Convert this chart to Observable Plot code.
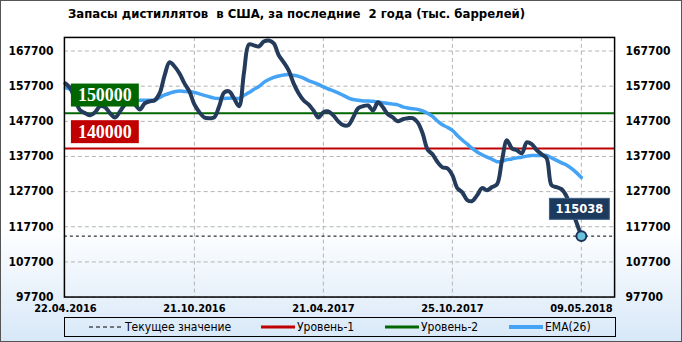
<!DOCTYPE html>
<html><head><meta charset="utf-8">
<script src="https://cdn.jsdelivr.net/npm/d3@7"></script>
<script src="https://cdn.jsdelivr.net/npm/@observablehq/plot@0.6"></script>
<style>
body{margin:0;}
#wrap{position:relative;width:682px;height:342px;box-sizing:border-box;border:1px solid #555;background:linear-gradient(to bottom,#ffffff 0%,#ffffff 66%,#d8e8f8 100%);overflow:hidden;font-family:"DejaVu Sans Condensed","DejaVu Sans",sans-serif;}
#title{position:absolute;left:67px;top:5px;font-weight:bold;font-size:13px;color:#000;white-space:pre;}
#chart{position:absolute;left:-1px;top:-1px;}
#legend{position:absolute;left:63px;top:316px;width:552px;height:20px;border:1px solid #000;box-sizing:border-box;}
.li{position:absolute;top:0;height:18px;display:flex;align-items:center;font-size:12px;white-space:nowrap;color:#000;}
.li svg{margin-right:2px;}
#chart svg [aria-label="y-axis tick label"] text, #chart svg [aria-label="x-axis tick label"] text{font-weight:bold;}
</style></head>
<body>
<div id="wrap">
  <div id="chart"></div>
  <div id="title"></div>
  <div id="legend"></div>
</div>
<script>
const titleText = "Запасы дистиллятов  в США, за последние  2 года (тыс. баррелей)";
const dates = ["22.04.2016","21.10.2016","21.04.2017","25.10.2017","09.05.2018"];
const dateIdx = [0,26,52,78,104];
const yTicks = [97700,107700,117700,127700,137700,147700,157700,167700];
const level1 = 140000;
const level2 = 150000;
const current = 115038;
const stocks = [
158500,157100,153700,150800,150000,149400,150300,152000,151700,150000,
148800,150500,152500,153400,152500,151100,152800,153400,153700,155700,
160800,164500,163300,161300,158500,156200,152500,150300,148800,148600,
148800,152000,155900,156200,154200,152000,161600,169600,169300,169000,
170400,170700,169900,166500,164500,162200,158500,155700,153700,152500,
150800,148800,150300,150500,149400,147700,146600,146600,148800,151400,
152000,152200,150800,153100,151700,149700,148800,147700,148300,148600,
148600,147400,144300,139700,138300,136100,134600,134300,132400,128700,
127500,125300,125000,126700,128700,128100,129000,129800,136600,142300,
140000,139500,138600,141700,141200,139500,138300,137200,129500,129000,
128400,126400,122700,119000,115038];
const ema = [
157200,156800,156500,156200,155700,155200,154800,154500,154200,153900,
153800,153700,153500,153500,153500,153700,153700,153700,153700,154500,
155200,155700,156100,156300,156200,156100,155900,155500,155100,154700,
154300,154200,154200,154300,154300,154200,155100,155900,156800,157600,
158800,159600,160200,160600,160900,161000,160800,160500,160000,159300,
158800,158200,157500,156900,156400,155800,155100,154400,153900,153700,
153500,153500,153400,153200,153000,152800,152600,152400,151800,151500,
151300,151100,150700,150000,149100,147800,146700,146000,145100,143700,
142400,141200,140000,139000,138200,137500,136900,136200,136300,136800,
137000,137300,137500,137800,138000,138000,138000,138000,137300,136600,
135900,135300,134300,133100,131700];
const legendItems = [
  {label:"Текущее значение", color:"#000", width:1, dash:"4,3", left:24},
  {label:"Уровень-1", color:"#c00000", width:3, dash:null, left:196},
  {label:"Уровень-2", color:"#006600", width:3, dash:null, left:320},
  {label:"EMA(26)", color:"#44a3f5", width:4, dash:null, left:444}
];

const C_MAIN = "#243b5c", C_EMA = "#44a3f5", C_L1 = "#c00000", C_L2 = "#006600";
const data = stocks.map((v,i)=>({i, v, e: ema[i]}));
const last = data[data.length-1];
const levels = [{v:level2, c:C_L2, dy:-18},{v:level1, c:C_L1, dy:-16.5}];
const axisFont = {fontSize:12, fontFamily:"DejaVu Sans Condensed"};

const chart = Plot.plot({
  width: 682, height: 342,
  marginLeft: 64, marginRight: 67, marginTop: 37, marginBottom: 45,
  style: {background:"transparent", fontFamily:"DejaVu Sans Condensed", overflow:"visible"},
  x: {type:"linear", domain:[-0.2, 110.7], label:null},
  y: {domain:[97700, 171570], label:null},
  marks: [
    Plot.gridY(yTicks, {stroke:"#b4b4b4", strokeOpacity:1, strokeDasharray:"4,3"}),
    Plot.gridX(dateIdx.slice(1), {stroke:"#b4b4b4", strokeOpacity:1, strokeDasharray:"4,3"}),
    Plot.ruleY([level2], {stroke:C_L2, strokeWidth:2}),
    Plot.ruleY([level1], {stroke:C_L1, strokeWidth:2}),
    Plot.ruleY([current], {stroke:"#000", strokeWidth:1, strokeDasharray:"3,3"}),
    Plot.line(data, {x:"i", y:"e", stroke:C_EMA, strokeWidth:3.5, curve:"catmull-rom"}),
    Plot.line(data, {x:"i", y:"v", stroke:C_MAIN, strokeWidth:4, curve:"catmull-rom"}),
    Plot.dot([last], {x:"i", y:"v", r:5, fill:"#6cc2dc", stroke:"#1a3358", strokeWidth:2}),
    Plot.frame({stroke:"#000", strokeWidth:1.5}),
    Plot.axisY(yTicks, {anchor:"left", label:null, tickSize:0, tickPadding:11, tickFormat:d=>String(d), ...axisFont}),
    Plot.axisY(yTicks, {anchor:"right", label:null, tickSize:0, tickPadding:11, tickFormat:d=>String(d), ...axisFont}),
    Plot.axisX(dateIdx, {anchor:"bottom", label:null, tickSize:0, tickPadding:7, tickFormat:d=>dates[dateIdx.indexOf(d)], fontSize:11, fontFamily:"DejaVu Sans Condensed"}),
    Plot.text(levels.slice(0,1), {y:"v", frameAnchor:"left", textAnchor:"middle", dx:40.5, dy:levels[0].dy, text:d=>String(d.v), fill:"#fff", fontSize:18, fontWeight:"bold", fontFamily:"Liberation Serif"}),
    Plot.text(levels.slice(1), {y:"v", frameAnchor:"left", textAnchor:"middle", dx:40.5, dy:levels[1].dy, text:d=>String(d.v), fill:"#fff", fontSize:18, fontWeight:"bold", fontFamily:"Liberation Serif"}),
    Plot.text([last], {x:"i", y:"v", dx:-2, dy:-27, text:d=>String(d.v), fill:"#fff", fontSize:11.5, fontWeight:"bold", fontFamily:"DejaVu Sans"})
  ]
});
document.getElementById("chart").appendChild(chart);
document.getElementById("title").textContent = titleText;

// background boxes behind the value labels (the text marks, in order)
const textGroups = d3.select(chart).selectAll('g[aria-label="text"]').nodes();
function boxes(group, fill, padW, h, stroke){
  if (!group) return;
  d3.select(group).selectAll("text").each(function(){
    const t = this;
    const b = t.getBBox();
    const cx = b.x + b.width/2, cy = b.y + b.height/2;
    const w = b.width + padW;
    const r = document.createElementNS("http://www.w3.org/2000/svg", "rect");
    r.setAttribute("x", cx - w/2); r.setAttribute("y", cy - h/2);
    r.setAttribute("width", w); r.setAttribute("height", h);
    r.setAttribute("fill", fill);
    if (stroke) { r.setAttribute("stroke", stroke); r.setAttribute("stroke-width", 1); }
    const tr = t.getAttribute("transform");
    if (tr) r.setAttribute("transform", tr);
    t.parentNode.insertBefore(r, t);
  });
}
boxes(textGroups[0], levels[0].c, 14, 23);
boxes(textGroups[1], levels[1].c, 14, 23);
boxes(textGroups[2], "#1c3a5e", 12, 21, "#3a5f88");

const leg = document.getElementById("legend");
legendItems.forEach(it=>{
  const d = document.createElement("div");
  d.className = "li";
  d.style.left = it.left + "px";
  d.innerHTML = `<svg width="34" height="6"><line x1="0" x2="34" y1="3" y2="3" stroke="${it.color}" stroke-width="${it.width}" ${it.dash?`stroke-dasharray="${it.dash}"`:""}/></svg><span></span>`;
  d.querySelector("span").textContent = it.label;
  leg.appendChild(d);
});
</script>
</body></html>
